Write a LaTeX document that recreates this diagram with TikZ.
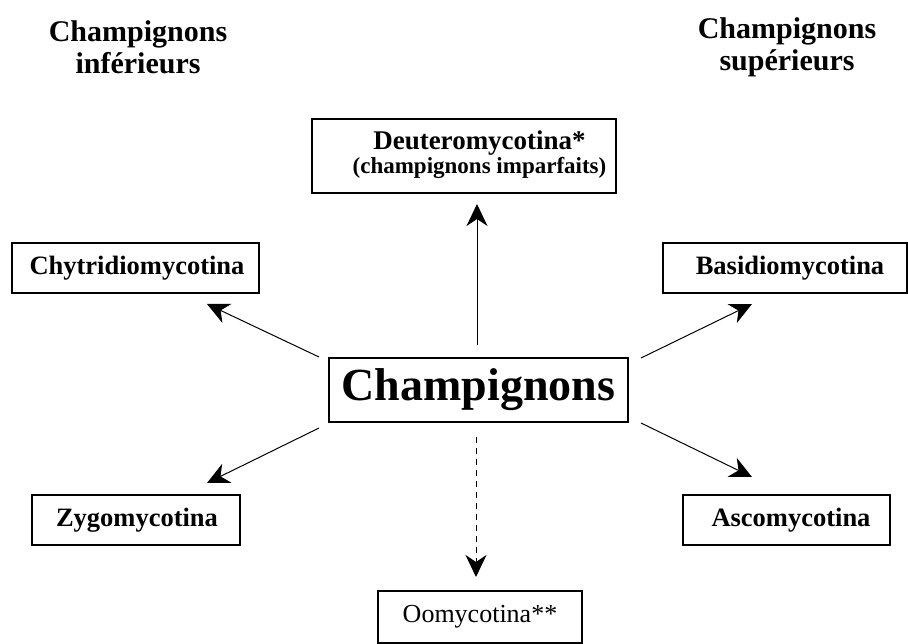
\documentclass[tikz,border=0pt]{standalone}
\usepackage{fontspec}
\setmainfont{Liberation Serif}
\usetikzlibrary{arrows.meta}
\begin{document}
\begin{tikzpicture}[x=1pt,y=-1pt,
  box/.style={draw,line width=1.1pt,inner sep=0pt,anchor=center,align=center},
  lab/.style={font=\fontsize{26.5}{28}\selectfont\bfseries},
  ttl/.style={font=\fontsize{30}{32}\selectfont\bfseries,align=center,inner sep=0pt},
  arr/.style={line width=1pt,-{Stealth[length=22pt,width=21pt,inset=7pt]}}]
\useasboundingbox (0,0) rectangle (908,644);
\node[ttl] (tl) at (138,47) {Champignons\\inférieurs};
\node[ttl] (tr) at (787,47) {Champignons\\supérieurs};
\node[box,minimum width=304pt,minimum height=74pt] (deut) at (464,156)
  {\hspace*{31pt}\fontsize{23}{24}\selectfont\bfseries\begin{tabular}{@{}c@{}}{\fontsize{27}{28}\selectfont Deuteromycotina*}\\(champignons imparfaits)\end{tabular}};
\node[box,lab,minimum width=247pt,minimum height=50pt] (chy) at (135.5,268) {\hspace*{3pt}Chytridiomycotina};
\node[box,lab,minimum width=244pt,minimum height=50pt] (bas) at (785,268) {\hspace*{10pt}Basidiomycotina};
\node[box,minimum width=299pt,minimum height=64pt,font=\fontsize{46}{48}\selectfont\bfseries] (cen) at (478.5,390) {Champignons};
\node[box,lab,minimum width=208pt,minimum height=50pt] (zyg) at (136,520) {\hspace*{2pt}Zygomycotina};
\node[box,lab,minimum width=207pt,minimum height=50pt] (asc) at (786.5,520) {\hspace*{9pt}Ascomycotina};
\node[box,minimum width=204pt,minimum height=52pt,font=\fontsize{26}{28}\selectfont] (oom) at (480,617) {Oomycotina**};
\coordinate (su) at (477,345);   \coordinate (eu) at (477,204);
\coordinate (sd) at (476,437);   \coordinate (ed) at (476,577);
\coordinate (slu) at (319,357);  \coordinate (elu) at (207,304);
\coordinate (sld) at (319,428);  \coordinate (eld) at (207,483);
\coordinate (sru) at (641,358);  \coordinate (eru) at (752,304);
\coordinate (srd) at (641,423);  \coordinate (erd) at (752,477);
\draw[arr] (su) -- (eu);
\draw[arr,dash pattern=on 6pt off 5pt] (sd) -- (ed);
\draw[arr] (slu) -- (elu);
\draw[arr] (sld) -- (eld);
\draw[arr] (sru) -- (eru);
\draw[arr] (srd) -- (erd);
\end{tikzpicture}
\end{document}
